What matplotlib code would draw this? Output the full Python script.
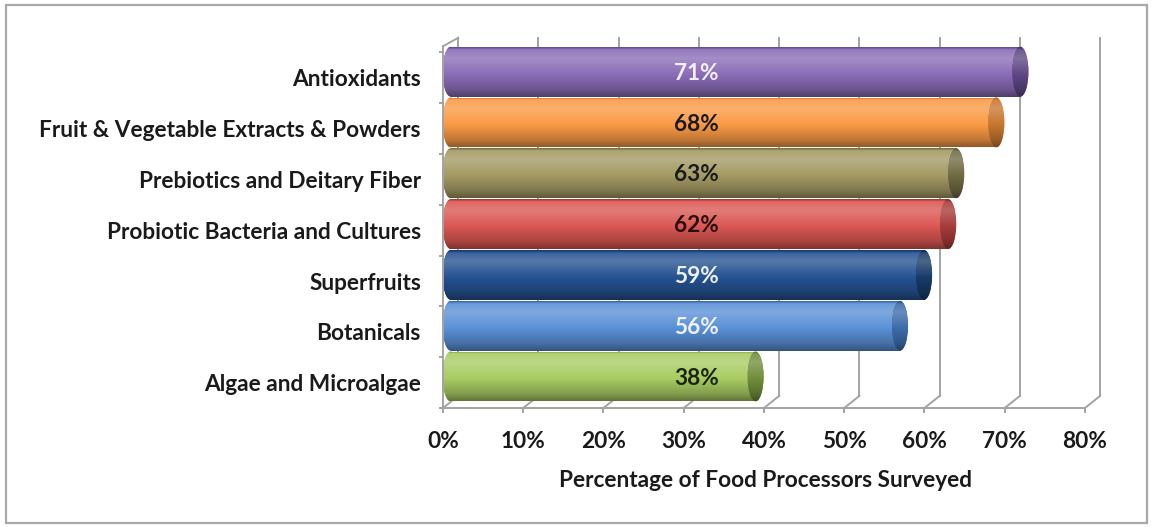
import numpy as np
import matplotlib
matplotlib.use("Agg")
import matplotlib.pyplot as plt
from matplotlib.colors import to_rgb
from matplotlib.patches import Ellipse, Rectangle

plt.rcParams["font.family"] = ["Lato", "DejaVu Sans"]
plt.rcParams["font.weight"] = "bold"

categories = ["Antioxidants", "Fruit & Vegetable Extracts & Powders",
              "Prebiotics and Deitary Fiber", "Probiotic Bacteria and Cultures",
              "Superfruits", "Botanicals", "Algae and Microalgae"]
values = [71, 68, 63, 62, 59, 56, 38]
labels = ["71%", "68%", "63%", "62%", "59%", "56%", "38%"]
x_ticks = [0, 10, 20, 30, 40, 50, 60, 70, 80]
x_tick_labels = ["0%", "10%", "20%", "30%", "40%", "50%", "60%", "70%", "80%"]

body_colors = ["#8B6DB8", "#FA9A45", "#A39A63", "#DA5753", "#255291", "#5A90D6", "#A9CC63"]
cap_colors = ["#5E4785", "#C8772F", "#716A43", "#A63C3A", "#173B69", "#3C6CAA", "#718E3B"]
text_colors = ["#F3EEFB", "#1A1A1A", "#1A1A1A", "#2A0E0E", "#EEF2F8", "#EEF2F8", "#1C2410"]

GRID = "#A3A3A3"
DX, DY = 1.9, 0.24          # depth offset of the back wall (x in %, y in rows)
BAR_H = 0.98
CAP_W = 2.0
FS = 16.3

fig = plt.figure(figsize=(11.52, 5.27), dpi=100)
ax = fig.add_axes([439 / 1152, 1 - 413.1 / 527, 666 / 1152, 378.5 / 527])
ax.set_xlim(-0.5, 82.5)
ax.set_ylim(-0.6, 6.85)
for s in ax.spines.values():
    s.set_visible(False)

# outer chart border
fig.patches.append(Rectangle((6 / 1152, 4 / 527), 1141 / 1152, 518 / 527,
                             transform=fig.transFigure, fill=False,
                             edgecolor="#A8A8A8", lw=1.6))

# walls and floor
top = 6.79
for k in x_ticks:
    ax.plot([k, k + DX], [-0.5, -0.5 + DY], color=GRID, lw=1.4, zorder=1)
    ax.plot([k + DX, k + DX], [-0.5 + DY, top], color=GRID, lw=1.4, zorder=1)
    ax.plot([k, k], [-0.5, -0.6], color=GRID, lw=1.4, zorder=1)
ax.plot([-0.75, 80], [-0.5, -0.5], color=GRID, lw=1.4, zorder=1)
ax.plot([0, 0], [-0.5, 6.62], color=GRID, lw=1.4, zorder=6)
ax.plot([0, DX], [6.62, 6.62 + DY * 0.7], color=GRID, lw=1.4, zorder=6)
for k in range(8):
    ax.plot([-0.75, 0], [k - 0.5, k - 0.5], color=GRID, lw=1.4, zorder=6)

# cylinder shading profile, top to bottom
prof_t = [0.0, 0.05, 0.22, 0.55, 0.85, 1.0]
prof_f = [-0.30, 0.10, 0.22, 0.0, -0.22, -0.42]


def gradient(color, n=80):
    c = np.array(to_rgb(color))
    f = np.interp(np.linspace(0, 1, n), prof_t, prof_f)[:, None]
    out = np.where(f > 0, c + (1 - c) * f, c * (1 + f))
    return np.clip(out, 0, 1)[:, None, :]


def shaded(patch, color, z):
    patch.set_zorder(z)
    ext = patch.get_extents().transformed(ax.transData.inverted())
    im = ax.imshow(gradient(color), extent=(ext.x0, ext.x1, ext.y0, ext.y1),
                   aspect="auto", origin="upper", zorder=z + 0.1,
                   interpolation="bilinear")
    im.set_clip_path(patch)


ypos = np.arange(len(categories))[::-1]
left = DX / 2
bars = ax.barh(ypos + DY / 2, values, left=left, height=BAR_H,
               color=body_colors, edgecolor="none")

fig.canvas.draw()
for i, bar in enumerate(bars):
    yc = bar.get_y() + bar.get_height() / 2
    x_end = bar.get_x() + bar.get_width()
    z = 3 + i * 0.5
    back = Ellipse((left, yc), CAP_W, BAR_H, facecolor=body_colors[i],
                   edgecolor="none")
    ax.add_patch(back)
    shaded(back, body_colors[i], z - 0.2)
    shaded(bar, body_colors[i], z)
    cap = Ellipse((x_end, yc), CAP_W, BAR_H, facecolor=cap_colors[i],
                  edgecolor="none")
    ax.add_patch(cap)
    shaded(cap, cap_colors[i], z + 0.2)
    ax.text(31.6, yc - 0.03, labels[i], ha="center", va="center", fontsize=FS,
            fontweight="bold", color=text_colors[i], zorder=20)

ax.set_yticks(ypos, categories)
ax.set_xticks(x_ticks, x_tick_labels)
ax.tick_params(axis="y", length=0, pad=13, labelsize=FS, labelcolor="#1A1A1A")
ax.tick_params(axis="x", length=0, pad=13, labelsize=FS, labelcolor="#1A1A1A")
ax.set_xlim(-0.5, 82.5)
ax.set_ylim(-0.6, 6.85)
ax.text(0.4895, -0.177, "Percentage of Food Processors Surveyed",
        transform=ax.transAxes, ha="center", va="center", fontsize=FS,
        fontweight="bold", color="#1A1A1A")

fig.savefig("out.png", dpi=100)
